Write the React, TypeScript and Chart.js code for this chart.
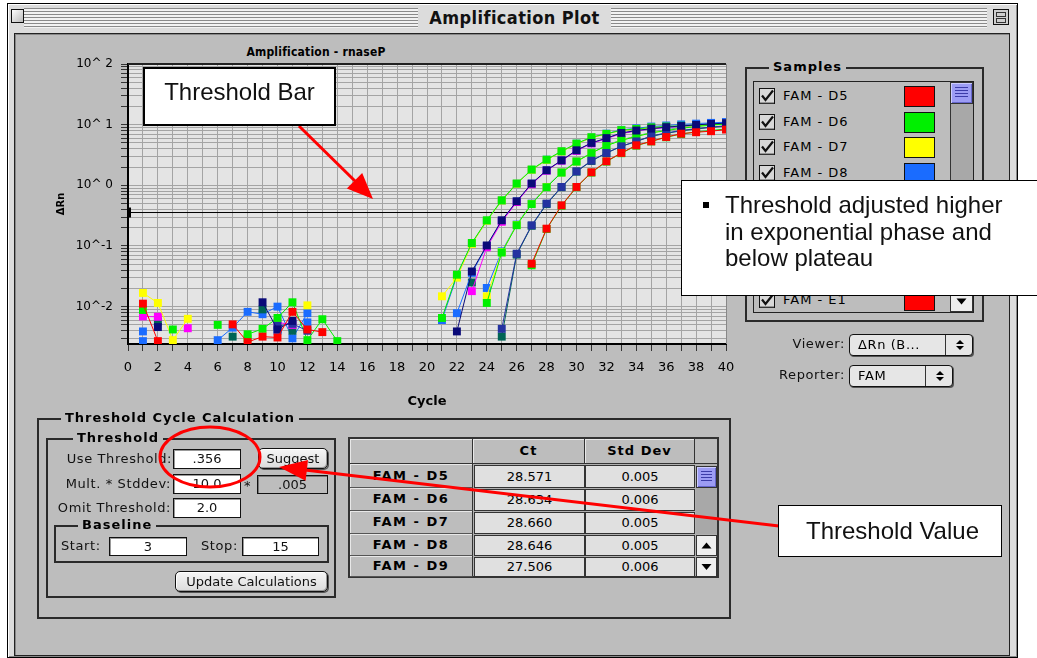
import React, { useEffect, useRef } from "react";
import { Chart, registerables } from "chart.js";

Chart.register(...registerables);

// ---------------- DATA ----------------
const _ = null;
const cycles = [
  1, 2, 3, 4, 5, 6, 7, 8, 9, 10, 11, 12, 13, 14, 15, 16, 17, 18, 19, 20,
  21, 22, 23, 24, 25, 26, 27, 28, 29, 30, 31, 32, 33, 34, 35, 36, 37, 38, 39, 40,
];

const famD5Red = [
  0.0112, 0.0027, _, _, _, _, 0.0051, 0.0026, 0.0032, 0.0031,
  0.0082, 0.0042, 0.0038, _, _, _, _, _, _, _,
  _, _, _, _, _, _, 0.051, 0.193, 0.468, 0.94,
  1.64, 2.49, 3.42, 4.57, 5.3, 6.26, 7.1, 7.5, 7.8, 8.3,
];
const famD6Green = [
  0.0088, _, 0.0042, _, _, 0.005, _, 0.0035, 0.0043, 0.0065,
  0.0118, 0.0028, 0.0062, 0.0027, _, _, _, _, _, _,
  0.0065, 0.0336, 0.112, 0.265, 0.566, 1.07, 1.82, 2.65, 3.64, 4.88,
  6.2, 7.05, 8.1, 8.5, 9.0, 9.3, 9.6, 9.8, 10.0, 10.2,
];
const famD7Yellow = [
  0.0168, 0.0115, 0.0028, 0.0063, _, _, _, _, _, _,
  _, 0.0105, _, _, _, _, _, _, _, _,
  0.0148, 0.03, 0.108, 0.26, 0.56, 1.06, 1.8, 2.62, 3.6, 4.8,
  6.1, 7.0, 8.0, 8.4, 8.9, 9.2, 9.5, 9.7, 9.9, 10.1,
];
const famD8Blue = [
  0.0039, _, _, _, _, 0.0028, 0.0045, 0.0082, 0.0075, 0.01,
  0.003, 0.0078, _, _, _, _, _, _, _, _,
  _, _, _, 0.0203, 0.0815, 0.225, 0.5, 0.94, 1.64, 2.49,
  3.42, 4.57, 5.6, 6.5, 7.4, 8.2, 9.0, 9.7, 10.4, 11.0,
];
const famD9Magenta = [
  0.0069, 0.0068, _, 0.0044, _, _, _, _, _, 0.0055,
  0.005, _, _, _, _, _, _, _, _, _,
  _, _, 0.018, 0.095, 0.25, 0.53, 1.04, 1.74, 2.55, 3.7,
  4.9, 5.9, 7.1, 7.9, 8.5, 9.0, 9.4, 9.8, 10.1, 10.4,
];
const famD10Navy = [
  _, 0.0046, _, _, _, _, _, _, 0.0118, 0.0042,
  0.0058, _, _, _, _, _, _, _, _, _,
  _, 0.0039, 0.038, 0.102, 0.265, 0.545, 1.07, 1.77, 2.58, 3.78,
  5.0, 6.0, 7.3, 8.0, 8.6, 9.1, 9.5, 9.9, 10.3, 10.6,
];
const famD11Teal = [
  _, 0.0057, _, _, _, _, 0.0032, _, 0.009, _,
  0.004, _, _, _, _, _, _, _, _, _,
  _, _, 0.025, _, 0.0032, 0.072, 0.215, 0.49, 0.93, 1.68,
  2.52, 3.4, 4.4, 5.3, 6.4, 7.2, 7.9, 8.5, 9.0, 9.5,
];
const famD12DarkBlue = [
  _, _, _, _, _, _, _, _, _, 0.0048,
  0.0052, 0.004, _, _, _, _, _, _, _, _,
  _, _, _, _, 0.0043, 0.0746, 0.219, 0.5, 0.94, 1.7,
  2.55, 3.42, 4.4, 5.3, 6.5, 7.3, 8.0, 8.6, 9.1, 9.6,
];
const famE1Blue = [
  0.0027, _, _, _, _, _, _, _, _, 0.004,
  _, 0.0055, _, _, _, _, _, _, _, _,
  0.006, 0.032, 0.11, 0.26, 0.56, 1.06, 1.8, 2.64, 3.62, 4.85,
  6.15, 7.1, 8.2, 8.7, 9.3, 9.7, 10.1, 10.4, 10.7, 11.0,
];
const famE2Green = [
  _, _, _, _, _, _, _, 0.003, _, _,
  _, _, _, _, _, _, _, _, _, _,
  _, _, _, 0.0115, 0.078, 0.22, 0.49, 0.93, 1.62, 2.46,
  3.4, 4.5, 5.5, 6.4, 7.3, 8.0, 8.7, 9.3, 9.8, 10.3,
];
const famE3Yellow = [
  _, _, _, _, _, _, _, _, _, _,
  _, _, _, _, _, _, _, _, _, _,
  _, _, _, 0.0148, 0.079, 0.222, 0.495, 0.935, 1.63, 2.47,
  3.41, 4.52, 5.55, 6.45, 7.35, 8.1, 8.8, 9.4, 9.9, 10.4,
];
const famE4Green = [
  _, _, _, _, _, _, _, _, _, _,
  _, _, _, _, _, _, _, _, _, _,
  _, _, _, _, _, _, 0.048, 0.19, 0.46, 0.93,
  1.62, 2.46, 3.38, 4.5, 5.3, 6.2, 7.0, 7.6, 8.0, 8.5,
];
const famE5Blue = [
  _, _, _, _, _, _, _, _, _, _,
  _, _, _, _, _, _, _, _, _, _,
  _, 0.0078, 0.036, 0.1, 0.26, 0.54, 1.06, 1.76, 2.57, 3.75,
  4.95, 5.95, 7.2, 7.95, 8.55, 9.05, 9.45, 9.85, 10.2, 10.5,
];

const RED = "#ff0000";
const GREEN = "#00f000";
const YELLOW = "#ffff00";
const BLUE = "#1a6cff";
const MAGENTA = "#ff00ff";
const NAVY = "#0a0a78";
const DARKBLUE = "#2432a0";
const TEAL = "#006456";

// drawing order: first item is on top
const seriesNames = ["D5", "D10", "D12", "D6", "E2", "E4", "D7", "E3", "D9", "E5", "D11", "D8", "E1"];
const seriesValues = [famD5Red, famD10Navy, famD12DarkBlue, famD6Green, famE2Green, famE4Green, famD7Yellow, famE3Yellow, famD9Magenta, famE5Blue, famD11Teal, famD8Blue, famE1Blue];
const seriesColors = [RED, NAVY, DARKBLUE, GREEN, GREEN, GREEN, YELLOW, YELLOW, MAGENTA, BLUE, TEAL, BLUE, BLUE];

const thresholdValue = 0.356;
const yMin = 0.00242;
const yMax = 100;
const xMin = 0;
const xMax = 40;
const yTickLabels: Record<string, string> = { "2": "10^ 2", "1": "10^ 1", "0": "10^ 0", "-1": "10^-1", "-2": "10^-2" };

const sampleNames = ["FAM - D5", "FAM - D6", "FAM - D7", "FAM - D8", "FAM - D9", "FAM - D10", "FAM - D11", "FAM - D12", "FAM - E1"];
const sampleColors = [RED, GREEN, YELLOW, BLUE, MAGENTA, NAVY, TEAL, DARKBLUE, RED];

const tableRows = ["FAM - D5", "FAM - D6", "FAM - D7", "FAM - D8", "FAM - D9"];
const ctValues = ["28.571", "28.634", "28.660", "28.646", "27.506"];
const stdDevValues = ["0.005", "0.006", "0.005", "0.005", "0.006"];

// ---------------- STYLE HELPERS ----------------
const UI = "'DejaVu Sans', 'Noto Sans', sans-serif";
const UIC = "'DejaVu Sans Condensed', 'DejaVu Sans', sans-serif";
const CALL = "'Liberation Sans', Arial, sans-serif";
const PANEL = "#bdbdbd";

function Abs(p: { x: number; y: number; w?: number; h?: number; style?: any; children?: any }) {
  return (
    <div style={{ position: "absolute", left: p.x, top: p.y, width: p.w, height: p.h, boxSizing: "border-box", ...p.style }}>
      {p.children}
    </div>
  );
}

function Group(p: { x: number; y: number; w: number; h: number; title: string; tx: number }) {
  return (
    <Abs x={p.x} y={p.y} w={p.w} h={p.h} style={{ border: "2px solid #2a2a2a" }}>
      <span
        style={{
          position: "absolute", left: p.tx, top: -10, background: PANEL, padding: "0 4px",
          font: `bold 13px ${UI}`, letterSpacing: 1, lineHeight: "16px", whiteSpace: "nowrap", color: "#000",
        }}
      >
        {p.title}
      </span>
    </Abs>
  );
}

function Label(p: { x: number; y: number; text: string; right?: boolean }) {
  return (
    <Abs x={p.right ? p.x - 200 : p.x} y={p.y - 9} w={p.right ? 200 : undefined} h={18}
      style={{ font: `13px ${UI}`, letterSpacing: 0.6, lineHeight: "18px", textAlign: p.right ? "right" : "left", whiteSpace: "nowrap", color: "#111" }}>
      {p.text}
    </Abs>
  );
}

function Field(p: { x: number; y: number; w: number; h: number; text: string; gray?: boolean }) {
  return (
    <Abs x={p.x} y={p.y} w={p.w} h={p.h}
      style={{
        border: "1px solid #111", background: p.gray ? "#bdbdbd" : "#fff",
        boxShadow: p.gray ? "inset 1px 1px 0 #777" : "inset 1px 1px 0 #999",
        font: `13px ${UI}`, textAlign: "center", lineHeight: `${p.h - 2}px`, color: "#111",
      }}>
      {p.text}
    </Abs>
  );
}

function Btn(p: { x: number; y: number; w: number; h: number; text: string }) {
  return (
    <Abs x={p.x} y={p.y} w={p.w} h={p.h}
      style={{
        border: "1px solid #111", borderRadius: 5, background: "linear-gradient(#f6f6f6, #dcdcdc)",
        boxShadow: "inset -1px -1px 0 #999, inset 1px 1px 0 #fff, 1px 1px 0 #555",
        font: `13px ${UI}`, textAlign: "center", lineHeight: `${p.h - 2}px`, color: "#111", whiteSpace: "nowrap",
      }}>
      {p.text}
    </Abs>
  );
}

function Check(p: { x: number; y: number }) {
  return (
    <svg style={{ position: "absolute", left: p.x, top: p.y }} width={17} height={17}>
      <rect x={0.5} y={0.5} width={15} height={15} fill="#d8d8d8" stroke="#111" />
      <line x1={1} y1={15} x2={15} y2={15} stroke="#555" />
      <path d="M3 7.5 L6.5 12 L14 2.5" stroke="#111" strokeWidth={2.2} fill="none" />
    </svg>
  );
}

function Thumb(p: { x: number; y: number; w: number; h: number }) {
  return (
    <Abs x={p.x} y={p.y} w={p.w} h={p.h}
      style={{ background: "#9c9cf4", border: "1px solid #333", boxShadow: "inset 1px 1px 0 #ccf, inset -1px -1px 0 #66c" }}>
      <div style={{
        position: "absolute", left: 4, right: 4, top: 4, bottom: 5,
        background: "repeating-linear-gradient(#3c3ca8 0 1px, transparent 1px 3px)",
      }} />
    </Abs>
  );
}

function ArrowBtn(p: { x: number; y: number; w: number; h: number; up?: boolean }) {
  const cx = p.w / 2;
  const cy = p.h / 2;
  const pts = p.up
    ? `${cx - 5},${cy + 3} ${cx + 5},${cy + 3} ${cx},${cy - 3}`
    : `${cx - 5},${cy - 3} ${cx + 5},${cy - 3} ${cx},${cy + 3}`;
  return (
    <Abs x={p.x} y={p.y} w={p.w} h={p.h} style={{ background: "#eeeeee", border: "1px solid #333" }}>
      <svg width={p.w} height={p.h} style={{ position: "absolute", left: -1, top: -1 }}>
        <polygon points={pts} fill="#000" />
      </svg>
    </Abs>
  );
}

function Popup(p: { x: number; y: number; w: number; h: number; text: string; div: number }) {
  return (
    <Abs x={p.x} y={p.y} w={p.w} h={p.h}
      style={{ border: "1px solid #111", borderRadius: 4, background: "#e6e6e6", boxShadow: "1px 1px 0 #555" }}>
      <span style={{ position: "absolute", left: 8, top: 0, font: `13px ${UI}`, letterSpacing: 0.6, lineHeight: `${p.h - 2}px`, whiteSpace: "nowrap" }}>{p.text}</span>
      <div style={{ position: "absolute", left: p.div, top: 0, bottom: 0, width: 1, background: "#333" }} />
      <svg width={14} height={14} style={{ position: "absolute", left: p.div + 8, top: (p.h - 2) / 2 - 7 }}>
        <polygon points="3,6 11,6 7,2" fill="#000" />
        <polygon points="3,8 11,8 7,12" fill="#000" />
      </svg>
    </Abs>
  );
}

// ---------------- CHART ----------------
const plotFrame = {
  id: "plotFrame",
  beforeDraw(chart: any) {
    const { ctx, chartArea: a } = chart;
    ctx.save();
    ctx.fillStyle = "#e4e4e4";
    ctx.fillRect(a.left, a.top, a.right - a.left, a.bottom - a.top);
    ctx.restore();
  },
  afterDraw(chart: any) {
    const { ctx, chartArea: a, scales } = chart;
    ctx.save();
    ctx.strokeStyle = "#222";
    ctx.lineWidth = 2;
    ctx.beginPath();
    ctx.moveTo(a.left, a.top);
    ctx.lineTo(a.right, a.top);
    ctx.stroke();
    ctx.strokeStyle = "#888";
    ctx.lineWidth = 1;
    ctx.beginPath();
    ctx.moveTo(a.right + 0.5, a.top);
    ctx.lineTo(a.right + 0.5, a.bottom);
    ctx.stroke();
    const ty = scales.y.getPixelForValue(thresholdValue);
    ctx.fillStyle = "#000";
    ctx.fillRect(a.left - 1, ty - 5, 4, 10);
    ctx.restore();
  },
};

function AmpChart() {
  const ref = useRef<HTMLCanvasElement>(null);
  useEffect(() => {
    Chart.defaults.font.family = UI;
    const datasets: any[] = seriesValues.map((vals, k) => ({
      label: seriesNames[k],
      data: cycles.map((c, i) => ({ x: c, y: vals[i] })),
      borderColor: seriesColors[k],
      backgroundColor: seriesColors[k],
      borderWidth: 1,
      pointStyle: "rect",
      pointRadius: 5.6,
      pointHoverRadius: 5.6,
      pointBorderWidth: 0,
      spanGaps: false,
      tension: 0,
    }));
    datasets.push({
      label: "Threshold",
      data: [{ x: xMin, y: thresholdValue }, { x: xMax, y: thresholdValue }],
      borderColor: "#000",
      borderWidth: 1,
      pointRadius: 0,
    });
    const grid = { color: "#a4a4a4", tickColor: "#333", tickLength: 7, lineWidth: 1 };
    const chart = new Chart(ref.current!, {
      type: "line",
      data: { datasets },
      plugins: [plotFrame],
      options: {
        animation: false,
        responsive: true,
        maintainAspectRatio: false,
        layout: { padding: { top: 24, right: 19, left: 0, bottom: 0 } },
        plugins: { legend: { display: false }, tooltip: { enabled: false }, title: { display: false } },
        scales: {
          x: {
            type: "linear",
            min: xMin,
            max: xMax,
            afterFit: (s: any) => { s.height = 71; },
            afterBuildTicks: (s: any) => {
              const t = [];
              for (let v = xMin; v <= xMax; v++) t.push({ value: v });
              s.ticks = t;
            },
            ticks: {
              autoSkip: false, maxRotation: 0, padding: 9, color: "#000", font: { size: 13 },
              callback: (v: any) => (Number(v) % 2 === 0 ? String(v) : ""),
            },
            grid,
            border: { color: "#000", width: 2 },
            title: { display: true, text: "Cycle", color: "#000", font: { size: 13, weight: "bold" }, padding: { top: 0, bottom: 6 } },
          },
          y: {
            type: "logarithmic",
            min: yMin,
            max: yMax,
            afterFit: (s: any) => { s.width = 73; },
            afterBuildTicks: (s: any) => {
              const t = [];
              for (let d = -3; d <= 2; d++) {
                for (let m = 1; m <= 9; m++) {
                  const v = m * Math.pow(10, d);
                  if (v >= yMin && v <= yMax * 1.0001) t.push({ value: v });
                }
              }
              s.ticks = t;
            },
            ticks: {
              autoSkip: false, padding: 8, color: "#000", font: { size: 12 },
              callback: (v: any) => {
                const l = Math.log10(Number(v));
                const r = Math.round(l);
                return Math.abs(l - r) < 1e-6 ? yTickLabels[String(r)] || "" : "";
              },
            },
            grid,
            border: { color: "#000", width: 2 },
            title: { display: true, text: "ΔRn", color: "#000", font: { size: 10, weight: "bold" }, padding: { top: 0, bottom: 0 } },
          },
        },
      } as any,
    });
    return () => chart.destroy();
  }, []);
  return (
    <div style={{ position: "absolute", left: 55, top: 40, width: 690, height: 375 }}>
      <canvas ref={ref} />
    </div>
  );
}

// ---------------- PAGE ----------------
export default function App() {
  const rowTops = [464, 488, 511, 534, 556];
  const rowBottoms = [488, 511, 534, 556, 577];
  return (
    <div style={{ position: "absolute", left: 0, top: 0, width: 1037, height: 658, background: "#fff", overflow: "hidden" }}>
      {/* window frame */}
      <Abs x={7} y={3} w={1011} h={655} style={{ border: "1px solid #000", background: "#dcdcdc", boxShadow: "inset 1px 1px 0 #fff, inset -1px -1px 0 #888" }} />
      {/* title bar */}
      <Abs x={24} y={8} w={396} h={20} style={{ background: "repeating-linear-gradient(#8a8a8a 0 1px, #f2f2f2 1px 3px)" }} />
      <Abs x={609} y={8} w={378} h={20} style={{ background: "repeating-linear-gradient(#8a8a8a 0 1px, #f2f2f2 1px 3px)" }} />
      <Abs x={11} y={9} w={13} h={14} style={{ border: "1px solid #111", background: "linear-gradient(135deg,#fff,#bbb)" }} />
      <Abs x={993} y={9} w={16} h={16} style={{ border: "1px solid #111", background: "#cfcfcf" }}>
        <div style={{ position: "absolute", left: 2, right: 2, top: 2, height: 5, border: "1px solid #333", boxSizing: "border-box" }} />
        <div style={{ position: "absolute", left: 2, right: 2, top: 8, height: 5, border: "1px solid #333", boxSizing: "border-box" }} />
      </Abs>
      <Abs x={418} y={5} w={193} h={26} style={{ background: "#dcdcdc", font: `bold 18px ${UIC}`, letterSpacing: 0.4, textAlign: "center", lineHeight: "26px", color: "#111", whiteSpace: "nowrap" }}>
        Amplification Plot
      </Abs>
      {/* content panel */}
      <Abs x={14} y={33} w={996} h={623} style={{ border: "1px solid #222", background: PANEL, boxShadow: "inset 1px 1px 0 #888" }} />

      {/* chart */}
      <Abs x={216} y={43} w={200} h={18} style={{ font: `bold 12px ${UIC}`, letterSpacing: 0.2, lineHeight: "18px", color: "#000", textAlign: "center", whiteSpace: "nowrap" }}>
        Amplification - rnaseP
      </Abs>
      <AmpChart />

      {/* Samples group */}
      <Group x={745} y={67} w={239} h={255} title="Samples" tx={22} />
      <Abs x={753} y={81} w={221} h={232} style={{ border: "1px solid #222", overflow: "hidden" }}>
        {sampleNames.map((n, i) => (
          <div key={n}>
            <Check x={5} y={6 + 25.5 * i} />
            <span style={{ position: "absolute", left: 29, top: 5 + 25.5 * i, font: `13px ${UI}`, letterSpacing: 1, lineHeight: "18px", whiteSpace: "nowrap" }}>{n}</span>
            <div style={{ position: "absolute", left: 150, top: 4 + 25.5 * i, width: 31, height: 21, background: sampleColors[i], border: "1px solid #111", boxSizing: "border-box" }} />
          </div>
        ))}
      </Abs>
      <Abs x={950} y={82} w={23} h={230} style={{ background: "#a8a8a8", borderLeft: "1px solid #333" }} />
      <Thumb x={950} y={82} w={23} h={22} />
      <ArrowBtn x={950} y={291} w={23} h={21} />

      <Label x={845} y={344} text="Viewer:" right />
      <Popup x={849} y={334} w={124} h={22} text="ΔRn (B..." div={95} />
      <Label x={845} y={375} text="Reporter:" right />
      <Popup x={849} y={365} w={104} h={22} text="FAM" div={75} />

      {/* Threshold Cycle Calculation */}
      <Group x={37} y={418} w={694} h={201} title="Threshold Cycle Calculation" tx={22} />
      <Group x={46} y={438} w={290} h={160} title="Threshold" tx={25} />
      <Label x={172} y={459} text="Use Threshold:" right />
      <Field x={173} y={449} w={68} h={20} text=".356" />
      <Btn x={258} y={448} w={70} h={21} text="Suggest" />
      <Label x={171} y={484} text="Mult. * Stddev:" right />
      <Field x={173} y={474} w={68} h={20} text="10.0" />
      <Label x={244} y={486} text="*" />
      <Field x={257} y={475} w={71} h={19} text=".005" gray />
      <Label x={171} y={508} text="Omit Threshold:" right />
      <Field x={173} y={498} w={68} h={20} text="2.0" />
      <Group x={54} y={525} w={275} h={38} title="Baseline" tx={22} />
      <Label x={61} y={546} text="Start:" />
      <Field x={109} y={537} w={78} h={19} text="3" />
      <Label x={201} y={546} text="Stop:" />
      <Field x={242} y={537} w={77} h={19} text="15" />
      <Btn x={175} y={571} w={153} h={21} text="Update Calculations" />

      {/* Table */}
      <Abs x={348} y={437} w={371} h={141} style={{ border: "2px solid #333", background: "#b0b0b0" }} />
      <Abs x={350} y={439} w={123} h={25} style={{ background: PANEL, borderRight: "1px solid #333", borderBottom: "1px solid #333", boxShadow: "inset 1px 1px 0 #e8e8e8" }} />
      <Abs x={473} y={439} w={112} h={25} style={{ background: PANEL, borderRight: "1px solid #333", borderBottom: "1px solid #333", boxShadow: "inset 1px 1px 0 #e8e8e8", font: `bold 13px ${UI}`, textAlign: "center", lineHeight: "24px", letterSpacing: 1 }}>Ct</Abs>
      <Abs x={585} y={439} w={110} h={25} style={{ background: PANEL, borderRight: "1px solid #333", borderBottom: "1px solid #333", boxShadow: "inset 1px 1px 0 #e8e8e8", font: `bold 13px ${UI}`, textAlign: "center", lineHeight: "24px", letterSpacing: 1 }}>Std Dev</Abs>
      <Abs x={695} y={439} w={22} h={25} style={{ background: PANEL, borderBottom: "1px solid #333" }} />
      {tableRows.map((r, i) => (
        <div key={r}>
          <Abs x={350} y={rowTops[i]} w={123} h={rowBottoms[i] - rowTops[i]} style={{ background: PANEL, borderBottom: "1px solid #555", borderRight: "1px solid #333", boxShadow: "inset 1px 1px 0 #e8e8e8", font: `bold 13px ${UI}`, letterSpacing: 1.5, textAlign: "center", lineHeight: `${rowBottoms[i] - rowTops[i] - 1}px` }}>{r}</Abs>
          <Abs x={474} y={rowTops[i] + 1} w={111} h={rowBottoms[i] - rowTops[i] - 1} style={{ background: "#e0e0e0", border: "1px solid #333", font: `13px ${UI}`, textAlign: "center", lineHeight: `${rowBottoms[i] - rowTops[i] - 3}px` }}>{ctValues[i]}</Abs>
          <Abs x={585} y={rowTops[i] + 1} w={110} h={rowBottoms[i] - rowTops[i] - 1} style={{ background: "#e0e0e0", border: "1px solid #333", font: `13px ${UI}`, textAlign: "center", lineHeight: `${rowBottoms[i] - rowTops[i] - 3}px` }}>{stdDevValues[i]}</Abs>
        </div>
      ))}
      <Abs x={696} y={466} w={21} h={68} style={{ background: "#a8a8a8" }} />
      <Thumb x={696} y={466} w={21} h={22} />
      <ArrowBtn x={696} y={535} w={21} h={21} up />
      <ArrowBtn x={696} y={557} w={21} h={20} />

      {/* annotations */}
      <svg width={1037} height={658} style={{ position: "absolute", left: 0, top: 0, pointerEvents: "none" }}>
        <line x1={299} y1={126} x2={356} y2={182} stroke="#ff0000" strokeWidth={3} />
        <polygon points="373,199 346.8,188.5 362.2,172.9" fill="#ff0000" />
        <ellipse cx={210} cy={457} rx={50} ry={30} fill="none" stroke="#ff0000" strokeWidth={3} />
        <line x1={779} y1={526} x2={305} y2={470} stroke="#ff0000" strokeWidth={3} />
        <polygon points="279,467 308,459.9 305.6,480.7" fill="#ff0000" />
      </svg>

      <Abs x={143} y={67} w={193} h={59} style={{ background: "#fff", border: "2px solid #000" }}>
        <div style={{ position: "absolute", left: 0, right: 0, top: 11, font: `24px ${CALL}`, lineHeight: "24px", textAlign: "center", color: "#111" }}>Threshold Bar</div>
      </Abs>
      <Abs x={681} y={180} w={370} h={116} style={{ background: "#fff", border: "1.5px solid #000" }}>
        <div style={{ position: "absolute", left: 21, top: 21, width: 6, height: 6, background: "#000" }} />
        <div style={{ position: "absolute", left: 43, top: 11, font: `24px ${CALL}`, lineHeight: "26.5px", color: "#111", whiteSpace: "nowrap" }}>
          Threshold adjusted higher<br />in exponential phase and<br />below plateau
        </div>
      </Abs>
      <Abs x={778} y={505} w={224} h={52} style={{ background: "#fff", border: "1.5px solid #000" }}>
        <div style={{ position: "absolute", left: 27, top: 13, font: `24px ${CALL}`, lineHeight: "24px", color: "#111", whiteSpace: "nowrap" }}>Threshold Value</div>
      </Abs>
    </div>
  );
}
